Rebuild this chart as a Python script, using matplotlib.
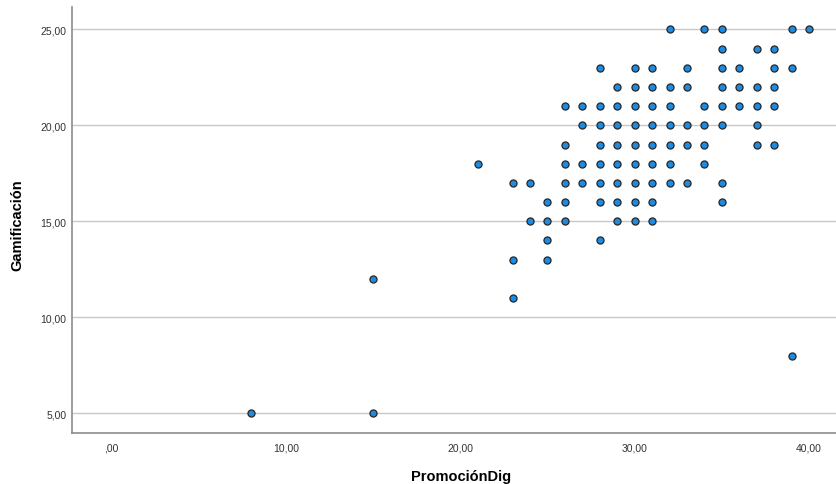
import matplotlib
matplotlib.use("Agg")
import matplotlib.pyplot as plt

plt.rcParams["font.family"] = ["Liberation Sans", "DejaVu Sans"]

# PromociónDig (x) and Gamificación (y) observations
promocion = [
    32, 34, 35, 39, 40,
    35, 37, 38,
    28, 30, 31, 33, 35, 36, 38, 39,
    29, 30, 31, 32, 33, 35, 36, 37, 38,
    26, 27, 28, 29, 30, 31, 32, 34, 35, 36, 37, 38,
    27, 28, 29, 30, 31, 32, 33, 34, 35, 37,
    26, 28, 29, 30, 31, 32, 33, 34, 37, 38,
    21, 26, 27, 28, 29, 30, 31, 32, 34,
    23, 24, 26, 27, 28, 29, 30, 31, 32, 33, 35,
    25, 26, 28, 29, 30, 31, 35,
    24, 25, 26, 29, 30, 31,
    25, 28,
    23, 25,
    15,
    23,
    39,
    8, 15,
]
gamificacion = (
    [25] * 5 + [24] * 3 + [23] * 8 + [22] * 9 + [21] * 12 + [20] * 10
    + [19] * 10 + [18] * 9 + [17] * 11 + [16] * 7 + [15] * 6 + [14] * 2
    + [13] * 2 + [12] + [11] + [8] + [5] * 2
)

x_ticks = [0, 10, 20, 30, 40]
x_tick_labels = [",00", "10,00", "20,00", "30,00", "40,00"]
y_ticks = [5, 10, 15, 20, 25]
y_tick_labels = ["5,00", "10,00", "15,00", "20,00", "25,00"]

fig = plt.figure(figsize=(8.37, 4.85), dpi=100)
ax = fig.add_axes([0.086, 0.105, 0.914, 0.878])

ax.scatter(promocion, gamificacion, s=26, c="#1d8be2",
           edgecolors="#262626", linewidths=0.9, zorder=3)

ax.set_xlim(-2.26, 41.6)
ax.set_ylim(3.96, 26.16)
ax.set_xticks(x_ticks)
ax.set_xticklabels(x_tick_labels)
ax.set_yticks(y_ticks)
ax.set_yticklabels(y_tick_labels)
ax.tick_params(length=0, labelsize=7.5, colors="#333333")
ax.tick_params(axis="x", pad=6.5)
ax.tick_params(axis="y", pad=4)

ax.grid(axis="y", color="#c8c8c8", linewidth=1)
ax.set_axisbelow(True)
for side in ("top", "right"):
    ax.spines[side].set_visible(False)
for side in ("left", "bottom"):
    ax.spines[side].set_color("#8c8c8c")
    ax.spines[side].set_linewidth(1.2)

ax.set_xlabel("PromociónDig", fontsize=10.5, fontweight="bold", va="center")
ax.xaxis.set_label_coords(0.508, -0.101)
ax.set_ylabel("Gamificación", fontsize=10.5, fontweight="bold", va="center")
ax.yaxis.set_label_coords(-0.072, 0.49)

fig.savefig("out.png", dpi=100)
